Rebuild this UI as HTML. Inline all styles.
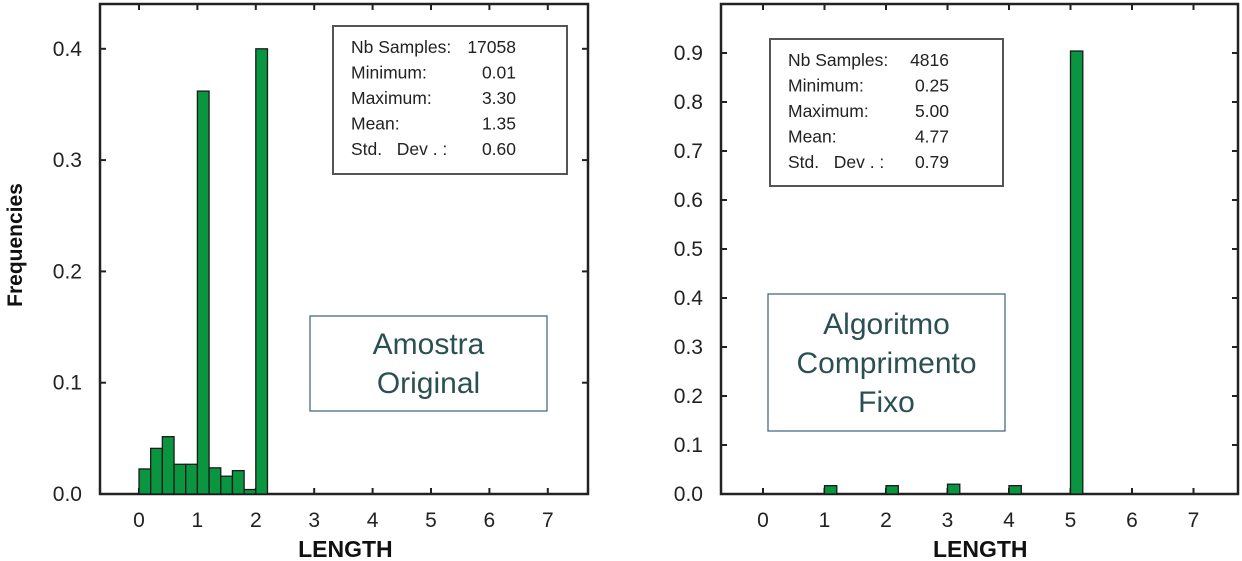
<!DOCTYPE html>
<html><head><meta charset="utf-8"><style>
html,body{margin:0;padding:0;background:#fff;}
svg{display:block;font-family:"Liberation Sans",Arial,sans-serif;}
.pre{white-space:pre;}
</style></head><body>
<svg id="svg" width="1242" height="561" viewBox="0 0 1242 561">
<text x="22" y="245" transform="rotate(-90 22 245)" text-anchor="middle" font-size="21" font-weight="bold" fill="#111">Frequencies</text>
<g id="left"></g>
<g id="right"></g>
</svg>
<script>
// Left chart data
const leftStarts = [0,0.2,0.4,0.6,0.8,1.0,1.2,1.4,1.6,1.8,2.0];
const leftValues = [0.0225,0.041,0.0515,0.0267,0.0267,0.362,0.0235,0.016,0.021,0.004,0.400];
const leftYTicks = ["0.0","0.1","0.2","0.3","0.4"];
const leftStats = [["Nb Samples:","17058"],["Minimum:","0.01"],["Maximum:","3.30"],["Mean:","1.35"],["Std.   Dev . :","0.60"]];
// Right chart data
const rightStarts = [1.0,2.0,3.0,4.0,5.0];
const rightValues = [0.017,0.017,0.020,0.017,0.904];
const rightYTicks = ["0.0","0.1","0.2","0.3","0.4","0.5","0.6","0.7","0.8","0.9"];
const rightStats = [["Nb Samples:","4816"],["Minimum:","0.25"],["Maximum:","5.00"],["Mean:","4.77"],["Std.   Dev . :","0.79"]];
const xTicks = ["0","1","2","3","4","5","6","7"];
const NS="http://www.w3.org/2000/svg";
function mk(p,t,a){const e=document.createElementNS(NS,t);for(const k in a)e.setAttribute(k,a[k]);p.appendChild(e);return e;}
function chart(g,cfg){
  const xs=v=>cfg.x0+v*cfg.xu, ys=v=>cfg.y0-v*cfg.yu;
  const f=mk(g,'rect',{x:cfg.fx0,y:cfg.fy0,width:cfg.fx1-cfg.fx0,height:cfg.y0-cfg.fy0,fill:'none',stroke:'#222','stroke-width':2.5});
  
  
  cfg.yt.forEach((t,i)=>{const v=i*0.1,y=ys(v);
    mk(g,'line',{x1:cfg.fx0,x2:cfg.fx0+6,y1:y,y2:y,stroke:'#222','stroke-width':2});
    mk(g,'line',{x1:cfg.fx1,x2:cfg.fx1-6,y1:y,y2:y,stroke:'#222','stroke-width':2});
    const tx=mk(g,'text',{x:cfg.fx0-18,y:y+7,'text-anchor':'end','font-size':21,fill:'#222'});tx.textContent=t;
    
    
  });
  xTicks.forEach((t,i)=>{const x=xs(i);
    mk(g,'line',{x1:x,x2:x,y1:cfg.y0,y2:cfg.y0-6,stroke:'#222','stroke-width':2});
    mk(g,'line',{x1:x,x2:x,y1:cfg.fy0,y2:cfg.fy0+6,stroke:'#222','stroke-width':2});
    const tx=mk(g,'text',{x:x,y:cfg.y0+33,'text-anchor':'middle','font-size':21,fill:'#222'});tx.textContent=t;
    
    
  });
  cfg.starts.forEach((s,i)=>{const x1=xs(s),x2=xs(s+0.2),y=ys(cfg.vals[i]);
    const r=mk(g,'rect',{x:x1,y:y,width:x2-x1,height:cfg.y0-y,fill:'#0a9640',stroke:'#1a1a1a','stroke-width':1.3});
    
    
  });
  const xl=mk(g,'text',{x:xs(3.5)+2,y:557,'text-anchor':'middle','font-size':23,'font-weight':'bold',fill:'#111'});xl.textContent='LENGTH';
  
  
  const sb=mk(g,'rect',{x:cfg.sb[0],y:cfg.sb[1],width:cfg.sb[2],height:cfg.sb[3],fill:'#fff',stroke:'#555','stroke-width':2});
  
  
  cfg.stats.forEach((r,i)=>{const y=cfg.sb[1]+27+i*25.5;
    const a=mk(g,'text',{x:cfg.sb[0]+18,y:y,'font-size':17.5,fill:'#222','class':'pre'});a.textContent=r[0];
    
    
    const b=mk(g,'text',{x:cfg.sb[0]+cfg.valX,y:y,'font-size':17.5,fill:'#222','text-anchor':'end'});b.textContent=r[1];
    
    
  });
  const tb=mk(g,'rect',{x:cfg.tb[0],y:cfg.tb[1],width:cfg.tb[2],height:cfg.tb[3],fill:'#fff',stroke:'#3d5f7a','stroke-width':1.2});
  
  
  cfg.lines.forEach((l,i)=>{const t=mk(g,'text',{x:cfg.tb[0]+cfg.tb[2]/2,y:cfg.tb[1]+cfg.ly+i*39,'text-anchor':'middle','font-size':30,fill:'#2b5053'});t.textContent=l;
    
    
  });
}
chart(document.getElementById('left'),{x0:139,xu:58.4,y0:494,yu:1113,fx0:100,fx1:588,fy0:4,yt:leftYTicks,starts:leftStarts,vals:leftValues,stats:leftStats,sb:[333,26,234,148],valX:183,tb:[310,316,237,95],lines:["Amostra","Original"],ly:38});
chart(document.getElementById('right'),{x0:763,xu:61.5,y0:494,yu:490,fx0:721,fx1:1238,fy0:4,yt:rightYTicks,starts:rightStarts,vals:rightValues,stats:rightStats,sb:[770,39,233,147],valX:179,tb:[768,294,237,137],lines:["Algoritmo","Comprimento","Fixo"],ly:40});
</script>
</body></html>
